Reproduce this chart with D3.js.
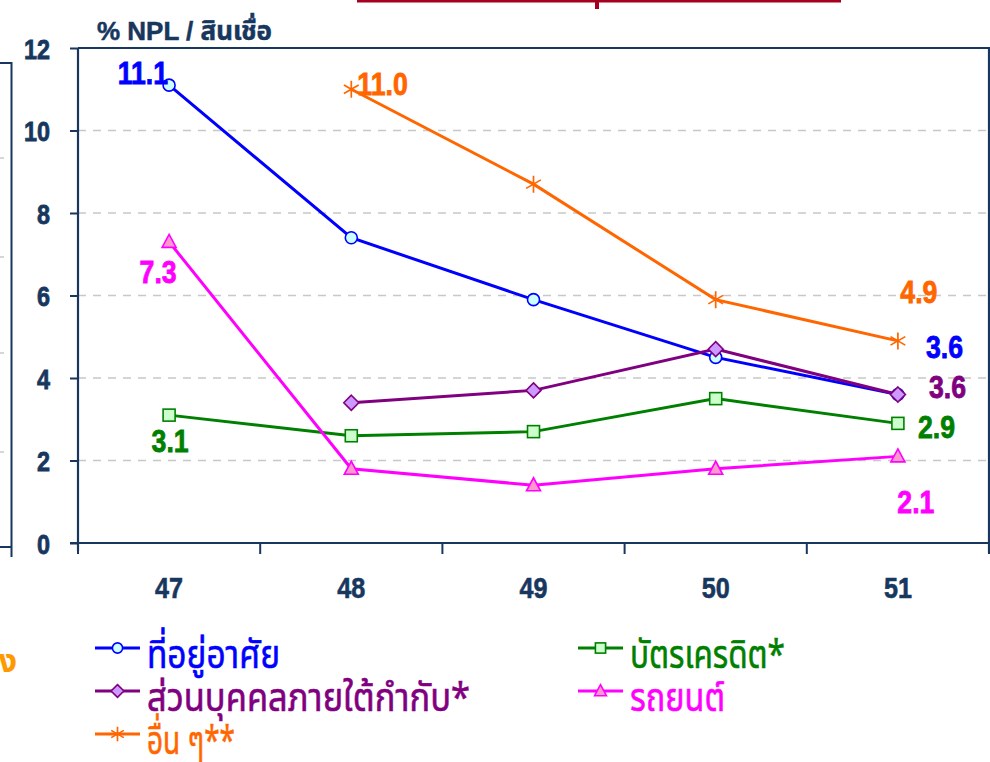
<!DOCTYPE html>
<html><head><meta charset="utf-8">
<script src="https://cdn.jsdelivr.net/npm/d3@7"></script>
<style>body{margin:0;background:#fff}svg{display:block}</style>
</head><body><svg id="c" width="990" height="762"></svg>
<script>
// ---- data ----
const categories = ["47", "48", "49", "50", "51"];
const yTicks = [0, 2, 4, 6, 8, 10, 12];
const housing = [11.1, 7.4, 5.9, 4.5, 3.6];
const creditCard = [3.1, 2.6, 2.7, 3.5, 2.9];
const personal = [null, 3.4, 3.7, 4.7, 3.6];
const auto = [7.3, 1.8, 1.4, 1.8, 2.1];
const others = [null, 11.0, 8.7, 5.9, 4.9];
const seriesNames = ["ที่อยู่อาศัย", "บัตรเครดิต*", "ส่วนบุคคลภายใต้กำกับ*", "รถยนต์", "อื่น ๆ**"];
const yTitle = "% NPL / สินเชื่อ";

// ---- styles ----
const navy = "#17375e";
const svg = d3.select("#c");
const M = {l: 78, r: 989, t: 48, b: 543};
const x = d3.scaleBand().domain(categories).range([M.l, M.r]).paddingInner(0).paddingOuter(0);
const y = d3.scaleLinear().domain([0, 12]).range([M.b, M.t]);
const cx = c => x(c) + x.bandwidth() / 2;

const series = [
  {name: seriesNames[0], values: housing, color: "#0000ff", fill: "#ccffff", marker: "circle"},
  {name: seriesNames[1], values: creditCard, color: "#008000", fill: "#ccffcc", marker: "square"},
  {name: seriesNames[2], values: personal, color: "#800080", fill: "#cc99ff", marker: "diamond"},
  {name: seriesNames[3], values: auto, color: "#ff00ff", fill: "#ff99cc", marker: "triangle"},
  {name: seriesNames[4], values: others, color: "#ff6600", fill: "none", marker: "star"}
];

// left partial panel (cut off neighbour chart)
const lp = svg.append("g");
[158, 257, 353, 452].forEach(gy => lp.append("line").attr("x1", 0).attr("x2", 4).attr("y1", gy).attr("y2", gy)
  .attr("stroke", "#c8c8c8").attr("stroke-width", 1.5));
lp.append("path").attr("d", "M0,63H11.5V557M0,547H11.5").attr("fill", "none").attr("stroke", navy).attr("stroke-width", 2);
svg.append("text").attr("x", 17).attr("y", 672).attr("text-anchor", "end").attr("fill", "#ff9900")
  .attr("font-family", "'Noto Sans Thai','Noto Sans',sans-serif").attr("font-size", 32).attr("font-weight", "bold").text("ทาง");

// title remnant
svg.append("rect").attr("x", 357).attr("y", 0).attr("width", 484).attr("height", 2.5).attr("fill", "#a50021");
svg.append("path").attr("d", "M590,2L595,2L595,9L599,9L599,2Z").attr("fill", "#a50021");

// gridlines
svg.append("g").selectAll("line").data(yTicks.filter(v => v > 0 && v < 12)).join("line")
  .attr("x1", M.l).attr("x2", M.r).attr("y1", d => y(d)).attr("y2", d => y(d))
  .attr("stroke", "#c8c8c8").attr("stroke-width", 1.5).attr("stroke-dasharray", "8,7");

// plot frame top/right
svg.append("path").attr("d", `M${M.l},${M.t}H${M.r}V${M.b + 10}`).attr("fill", "none").attr("stroke", navy).attr("stroke-width", 2.2);

// y axis
const yAxis = svg.append("g").attr("transform", `translate(${M.l},0)`)
  .call(d3.axisLeft(y).tickValues(yTicks).tickSize(8).tickPadding(20).tickFormat(d3.format("d")));
yAxis.select(".domain").attr("stroke", navy).attr("stroke-width", 2.2).attr("d", `M0,${M.t}V${M.b + 8}`);
yAxis.selectAll(".tick line").attr("stroke", navy).attr("stroke-width", 2);
yAxis.selectAll(".tick text").attr("fill", navy).attr("stroke", navy).attr("stroke-width", 0.8)
  .attr("font-family", "'Liberation Sans',Arial,sans-serif")
  .attr("font-size", 28).attr("font-weight", "bold").attr("dy", "0.36em")
  .attr("textLength", d => String(d).length * 13).attr("lengthAdjust", "spacingAndGlyphs");

// x axis
const xAxis = svg.append("g").attr("transform", `translate(0,${M.b})`)
  .call(d3.axisBottom(x).tickSize(0).tickPadding(34));
xAxis.select(".domain").attr("stroke", navy).attr("stroke-width", 2.2).attr("d", `M${M.l - 8},0H${M.r}`);
xAxis.selectAll(".tick text").attr("fill", navy).attr("stroke", navy).attr("stroke-width", 0.6)
  .attr("font-family", "'Liberation Sans Narrow','Liberation Sans',sans-serif")
  .attr("font-size", 30).attr("font-weight", "bold").attr("textLength", 28).attr("lengthAdjust", "spacingAndGlyphs");
const bounds = categories.map(c => x(c)).concat([x(categories[categories.length - 1]) + x.bandwidth()]);
svg.append("g").selectAll("line").data(bounds).join("line")
  .attr("x1", d => d).attr("x2", d => d).attr("y1", M.b).attr("y2", M.b + 11)
  .attr("stroke", navy).attr("stroke-width", 2);

// y title
svg.append("text").attr("x", 97).attr("y", 40).attr("fill", navy).attr("stroke", navy).attr("stroke-width", 0.5)
  .attr("font-family", "'Liberation Sans','Noto Sans Thai','Noto Sans',sans-serif").attr("font-size", 26).attr("font-weight", "bold")
  .attr("textLength", 175).attr("lengthAdjust", "spacingAndGlyphs").text(yTitle);

// markers
function drawMarker(g, type, color, fill, px, py, s) {
  s = s || 1;
  if (type === "circle") g.append("circle").attr("cx", px).attr("cy", py).attr("r", 6 * s).attr("fill", fill).attr("stroke", color).attr("stroke-width", 1.6);
  else if (type === "square") g.append("rect").attr("x", px - 6 * s).attr("y", py - 6 * s).attr("width", 12 * s).attr("height", 12 * s).attr("fill", fill).attr("stroke", color).attr("stroke-width", 1.6);
  else if (type === "diamond") g.append("path").attr("d", `M${px},${py - 7.5 * s}L${px + 7.5 * s},${py}L${px},${py + 7.5 * s}L${px - 7.5 * s},${py}Z`).attr("fill", fill).attr("stroke", color).attr("stroke-width", 1.6);
  else if (type === "triangle") g.append("path").attr("d", `M${px},${py - 7.5 * s}L${px + 7 * s},${py + 5.5 * s}L${px - 7 * s},${py + 5.5 * s}Z`).attr("fill", fill).attr("stroke", color).attr("stroke-width", 1.6);
  else if (type === "star") {
    const r = 8.5 * s;
    g.append("path").attr("d", `M${px},${py - r}V${py + r}M${px - r * 0.87},${py - r * 0.5}L${px + r * 0.87},${py + r * 0.5}M${px - r * 0.87},${py + r * 0.5}L${px + r * 0.87},${py - r * 0.5}`)
      .attr("stroke", color).attr("stroke-width", 1.7).attr("fill", "none");
  }
}

// lines
const line = d3.line().defined(d => d.v != null).x(d => cx(d.c)).y(d => y(d.v));
series.forEach(s => {
  const pts = categories.map((c, i) => ({c, v: s.values[i]}));
  const g = svg.append("g");
  g.append("path").datum(pts).attr("d", line).attr("fill", "none").attr("stroke", s.color).attr("stroke-width", 3);
  pts.filter(p => p.v != null).forEach(p => drawMarker(g, s.marker, s.color, s.fill, cx(p.c), y(p.v)));
});

// value labels: [series index, category index, dx, dy, anchor]
const labelCfg = [
  [0, 0, -1, -1, "end"], [3, 0, -11, 41, "middle"], [1, 0, 1, 37, "middle"],
  [4, 1, 6, 6, "start"], [4, 4, 21, -38, "middle"], [0, 4, 28, -37, "start"],
  [2, 4, 31, 3, "start"], [1, 4, 20, 15, "start"], [3, 4, 18, 57, "middle"]
];
labelCfg.forEach(([si, ci, dx, dy, anc]) => {
  const s = series[si], v = s.values[ci];
  const px = cx(categories[ci]) + dx, py = y(v) + dy;
  svg.append("text").attr("transform", `translate(${px},${py}) scale(0.86,1)`).attr("text-anchor", anc)
    .attr("fill", s.color).attr("stroke", s.color).attr("stroke-width", 0.8)
    .attr("font-family", "'Liberation Sans',Arial,sans-serif").attr("font-size", 31).attr("font-weight", "bold")
    .text(v.toFixed(1));
});

// legend
const legPos = [[95, 648, 133], [578, 648, 155], [95, 691, 323], [578, 691, 95], [95, 734, 88]];
series.forEach((s, i) => {
  const [lx, ly, tl] = legPos[i];
  const g = svg.append("g");
  g.append("line").attr("x1", lx).attr("x2", lx + 45).attr("y1", ly).attr("y2", ly).attr("stroke", s.color).attr("stroke-width", 3);
  drawMarker(g, s.marker, s.color, s.fill, lx + 22.5, ly, 0.85);
  g.append("text").attr("x", lx + 52).attr("y", ly + 20).attr("fill", s.color).attr("stroke", s.color).attr("stroke-width", 0.6)
    .attr("font-family", "'Noto Sans Thai','Noto Sans',sans-serif").attr("font-size", 40)
    .attr("textLength", tl).attr("lengthAdjust", "spacingAndGlyphs").text(s.name);
});
</script></body></html>
